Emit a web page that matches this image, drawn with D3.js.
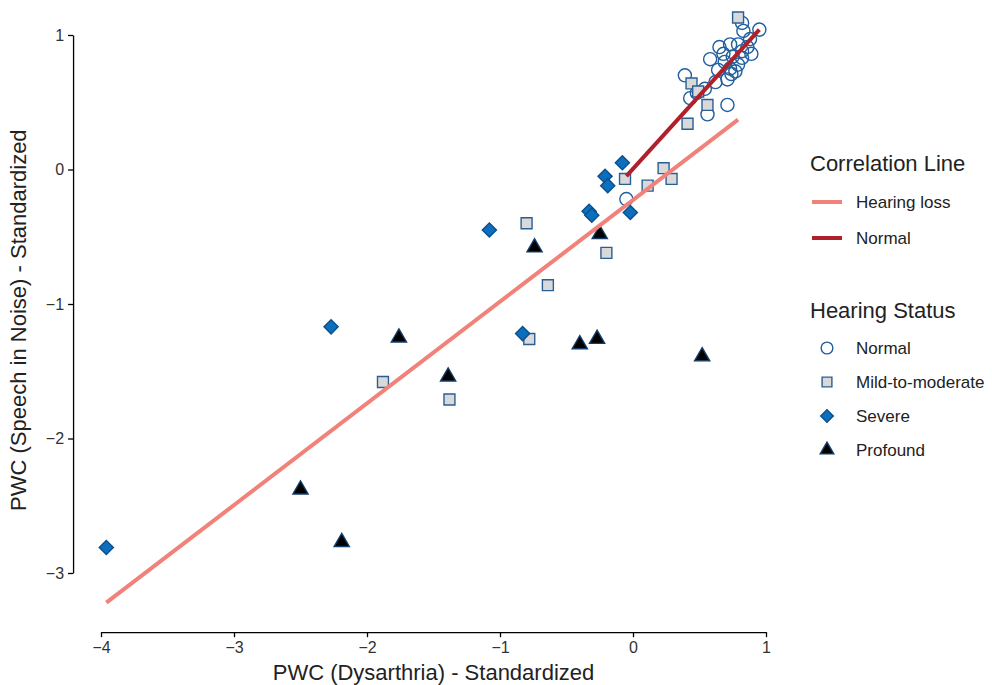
<!DOCTYPE html>
<html>
<head>
<meta charset="utf-8">
<script src="https://cdn.jsdelivr.net/npm/d3@7"></script>
<style>
  body { margin: 0; background: #fff; }
  svg { font-family: "Liberation Sans", Arial, Helvetica, sans-serif; }
</style>
</head>
<body>
<div class="content"></div>
<script>
// data: [x, y] = [dysarthria, speech in noise]
var normal = [
  [0.82, 1.09], [0.83, 1.03], [0.95, 1.04], [0.86, 0.91], [0.79, 0.93], [0.73, 0.93],
  [0.88, 0.97], [0.65, 0.91], [0.82, 0.88], [0.68, 0.86], [0.75, 0.84], [0.82, 0.83],
  [0.58, 0.82], [0.69, 0.80], [0.79, 0.78], [0.89, 0.86], [0.64, 0.74], [0.73, 0.75],
  [0.77, 0.73], [0.74, 0.71], [0.39, 0.70], [0.71, 0.67], [0.62, 0.65], [0.48, 0.57],
  [0.54, 0.60], [0.43, 0.53], [0.56, 0.41], [0.71, 0.48], [-0.05, -0.22]
];
var mild = [
  [-1.88, -1.58], [-1.38, -1.71], [-0.80, -0.40], [-0.78, -1.26], [-0.64, -0.86],
  [-0.20, -0.62], [-0.06, -0.07], [0.11, -0.12], [0.23, 0.01], [0.29, -0.07],
  [0.41, 0.34], [0.44, 0.64], [0.49, 0.58], [0.56, 0.48], [0.79, 1.13]
];
var severe = [
  [-3.96, -2.81], [-2.27, -1.17], [-1.08, -0.45], [-0.83, -1.22], [-0.33, -0.31],
  [-0.31, -0.34], [-0.21, -0.05], [-0.19, -0.12], [-0.08, 0.05], [-0.02, -0.32]
];
var profound = [
  [-2.50, -2.38], [-2.19, -2.77], [-1.76, -1.25], [-1.39, -1.54], [-0.74, -0.58],
  [-0.40, -1.30], [-0.27, -1.26], [-0.25, -0.48], [0.52, -1.39]
];

// linear fits [intercept, slope]
var fitHearingLoss = [-0.227, 0.756];
var fitNormal = [0.005, 1.09];

var xTicks = [-4, -3, -2, -1, 0, 1];
var yTicks = [-3, -2, -1, 0, 1];

var groups = [
  { name: "Normal", data: normal, shape: d3.symbolCircle, size: 135, fill: "none", stroke: "#1f5f9f", rot: 0 },
  { name: "Mild-to-moderate", data: mild, shape: d3.symbolSquare, size: 120, fill: "#d9d9d9", stroke: "#2a5f95", rot: 0 },
  { name: "Severe", data: severe, shape: d3.symbolSquare, size: 100, fill: "#0b6fbd", stroke: "#0c4f8c", rot: 45 },
  { name: "Profound", data: profound, shape: d3.symbolTriangle, size: 100, fill: "#000000", stroke: "#123e6b", rot: 0 }
];

var lines = [
  { name: "Hearing loss", fit: fitHearingLoss, data: mild.concat(severe, profound), color: "#f0827a" },
  { name: "Normal", fit: fitNormal, data: normal, color: "#b0202a" }
];

var W = 992, H = 685;
var svg = d3.select('.content').append('svg').attr('width', W).attr('height', H);

var x = d3.scaleLinear().domain([-4, 1]).range([101, 766]);
var y = d3.scaleLinear().domain([-3, 1]).range([573, 35]);
var panelLeft = x(-4.21), panelBottom = y(-3.44);
var fmt = d3.format('d');

// axes (capped at the outer ticks)
var xAxis = svg.append('g').attr('transform', 'translate(0,' + panelBottom + ')')
  .call(d3.axisBottom(x).tickValues(xTicks).tickFormat(fmt).tickSizeInner(5).tickSizeOuter(0).tickPadding(4));
var yAxis = svg.append('g').attr('transform', 'translate(' + panelLeft + ',0)')
  .call(d3.axisLeft(y).tickValues(yTicks).tickFormat(fmt).tickSizeInner(5).tickSizeOuter(0).tickPadding(4));
[xAxis, yAxis].forEach(function (g) {
  g.select('.domain').attr('stroke', '#000').attr('stroke-width', 1.3);
  g.selectAll('.tick line').attr('stroke', '#000').attr('stroke-width', 1.3);
  g.selectAll('.tick text').attr('fill', '#333').style('font-size', '16px');
});

svg.append('text').attr('x', (panelLeft + x(1.21)) / 2).attr('y', 680)
  .attr('text-anchor', 'middle').style('font-size', '22px').attr('fill', '#222')
  .text('PWC (Dysarthria) - Standardized');
svg.append('text').attr('transform', 'translate(26,' + (y(-1.12)) + ') rotate(-90)')
  .attr('text-anchor', 'middle').style('font-size', '22px').attr('fill', '#222')
  .text('PWC (Speech in Noise) - Standardized');

// points
groups.forEach(function (g) {
  svg.append('g').selectAll('path').data(g.data).enter().append('path')
    .attr('d', d3.symbol().type(g.shape).size(g.size))
    .attr('transform', function (d) {
      return 'translate(' + x(d[0]) + ',' + y(d[1]) + ') rotate(' + g.rot + ')';
    })
    .attr('fill', g.fill).attr('stroke', g.stroke).attr('stroke-width', 1.4);
});

// regression lines
lines.forEach(function (l) {
  var ext = d3.extent(l.data, function (d) { return d[0]; });
  svg.append('line')
    .attr('x1', x(ext[0])).attr('y1', y(l.fit[0] + l.fit[1] * ext[0]))
    .attr('x2', x(ext[1])).attr('y2', y(l.fit[0] + l.fit[1] * ext[1]))
    .attr('stroke', l.color).attr('stroke-width', 4);
});

// legends
var lg = svg.append('g').attr('transform', 'translate(810,0)');
lg.append('text').attr('x', 0).attr('y', 171).style('font-size', '22px').attr('fill', '#222').text('Correlation Line');
lines.forEach(function (l, i) {
  var yy = 202 + i * 36;
  lg.append('line').attr('x1', 2).attr('x2', 32).attr('y1', yy).attr('y2', yy)
    .attr('stroke', l.color).attr('stroke-width', 4);
  lg.append('text').attr('x', 46).attr('y', yy + 6).style('font-size', '17px').attr('fill', '#222').text(l.name);
});
lg.append('text').attr('x', 0).attr('y', 318).style('font-size', '22px').attr('fill', '#222').text('Hearing Status');
groups.forEach(function (g, i) {
  var yy = 348 + i * 34;
  lg.append('path').attr('d', d3.symbol().type(g.shape).size(g.size * 0.8))
    .attr('transform', 'translate(17,' + yy + ') rotate(' + g.rot + ')')
    .attr('fill', g.fill === 'none' ? '#fff' : g.fill).attr('stroke', g.stroke).attr('stroke-width', 1.4);
  lg.append('text').attr('x', 46).attr('y', yy + 6).style('font-size', '17px').attr('fill', '#222').text(g.name);
});
</script>
</body>
</html>
